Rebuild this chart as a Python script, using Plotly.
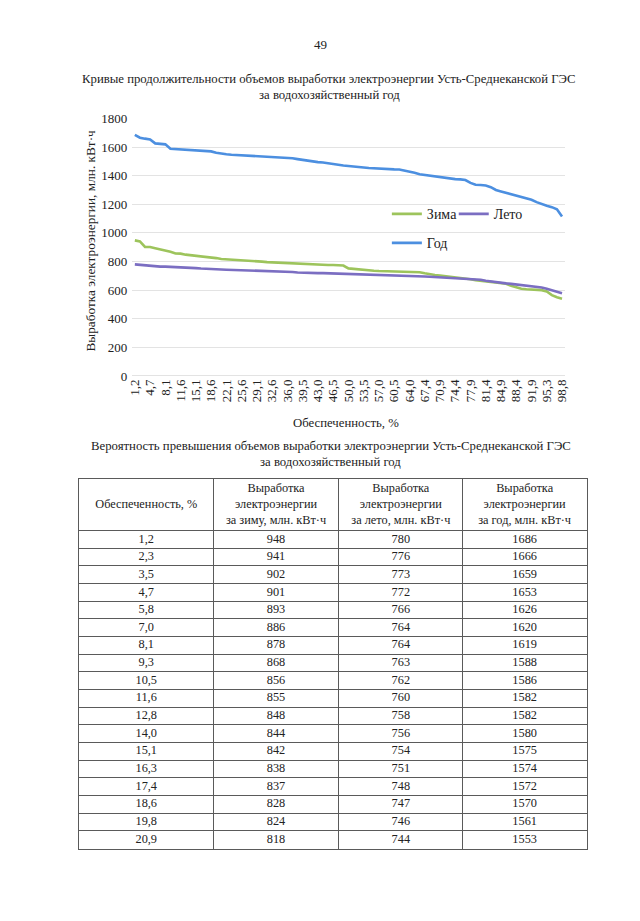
import plotly.graph_objects as go

# Обеспеченность, % (85 points)
obesp = ["1,2","2,3","3,5","4,7","5,8","7,0","8,1","9,3","10,5","11,6","12,8","14,0","15,1","16,3","17,4",
         "18,6","19,8","20,9","22,1","23,3","24,4","25,6","26,7","27,9","29,1","30,2","31,4","32,6","33,7",
         "34,9","36,0","37,2","38,4","39,5","40,7","41,9","43,0","44,2","45,3","46,5","47,7","48,8","50,0",
         "51,2","52,3","53,5","54,7","55,8","57,0","58,1","59,3","60,5","61,6","62,8","64,0","65,1","66,3",
         "67,4","68,6","69,8","70,9","72,1","73,3","74,4","75,6","76,7","77,9","79,1","80,2","81,4","82,6",
         "83,7","84,9","86,0","87,2","88,4","89,5","90,7","91,9","93,0","94,2","95,3","96,5","97,7","98,8"]

zima = [948, 941, 902, 901, 893, 886, 878, 868, 856, 855, 848, 844, 842, 838, 837, 828, 824, 818,
        816, 814, 813, 812, 809, 806, 802, 799, 796, 794, 792, 790, 788, 786, 784, 782, 781, 779,
        778, 777, 776, 776, 775, 772, 752, 748, 744, 740, 738, 736, 734, 733, 731, 730, 729, 728,
        727, 726, 725, 718, 710, 706, 702, 698, 694, 691, 688, 682, 676, 670, 666, 662, 660, 656,
        650, 645, 630, 618, 610, 606, 604, 602, 600, 590, 565, 550, 540]

leto = [780, 776, 773, 772, 766, 764, 764, 763, 762, 760, 758, 756, 754, 751, 748, 747, 746, 744,
        743, 742, 741, 740, 738, 736, 735, 734, 733, 733, 732, 731, 729, 727, 723, 721, 720, 720,
        719, 719, 718, 717, 716, 715, 714, 713, 712, 711, 710, 709, 708, 707, 705, 704, 703, 702,
        700, 699, 697, 695, 693, 691, 689, 688, 686, 684, 682, 680, 679, 677, 672, 666, 660, 655,
        651, 647, 644, 640, 636, 631, 627, 623, 618, 610, 601, 590, 578]

god = [1686, 1666, 1659, 1653, 1626, 1620, 1619, 1588, 1586, 1582, 1582, 1580, 1575, 1574, 1572,
       1570, 1561, 1553, 1550, 1547, 1545, 1541, 1539, 1537, 1535, 1533, 1530, 1528, 1527, 1525,
       1524, 1522, 1516, 1510, 1506, 1502, 1495, 1492, 1486, 1481, 1476, 1471, 1468, 1463, 1460,
       1457, 1454, 1451, 1449, 1447, 1445, 1444, 1443, 1437, 1428, 1420, 1410, 1405, 1401, 1396,
       1389, 1383, 1379, 1376, 1374, 1370, 1350, 1337, 1335, 1331, 1320, 1300, 1290, 1280, 1270,
       1262, 1254, 1245, 1232, 1215, 1200, 1190, 1180, 1165, 1115]

table_rows = 18
header_labels = ["Обеспеченность, %",
                 "Выработка<br>электроэнергии<br>за зиму, млн. кВт·ч",
                 "Выработка<br>электроэнергии<br>за лето, млн. кВт·ч",
                 "Выработка<br>электроэнергии<br>за год, млн. кВт·ч"]

FONT = "Liberation Serif, Times New Roman, serif"
TXT = "#222222"
W, H = 600, 880
# empirical mapping from page pixels to figure pixels
SCALE, OFF_X, OFF_Y = 0.985, 13.5, 14.3


def px_x(x):
    return ((x - OFF_X) / SCALE) / W


def px_y(y):
    return 1 - ((y - OFF_Y) / SCALE) / H


# table geometry (in table pixel units)
col_w = [134, 126, 124, 124]
header_h, row_h = 52, 17.7
col_bounds = [0]
for w in col_w:
    col_bounds.append(col_bounds[-1] + w)
col_centers = [(col_bounds[i] + col_bounds[i + 1]) / 2 for i in range(len(col_w))]
row_bounds = [0, header_h] + [header_h + row_h * (k + 1) for k in range(table_rows)]
row_centers = [header_h + row_h * (k + 0.5) for k in range(table_rows)]
table_w, table_h = col_bounds[-1], row_bounds[-1]
tbl_left, tbl_top = 80, 479

fig = go.Figure()
fig.add_trace(go.Scatter(x=obesp, y=zima, mode="lines", name="Зима",
                         line=dict(color="#9DC45C", width=2.6), legend="legend"))
fig.add_trace(go.Scatter(x=obesp, y=leto, mode="lines", name="Лето",
                         line=dict(color="#7B6EC2", width=2.6), legend="legend3"))
fig.add_trace(go.Scatter(x=obesp, y=god, mode="lines", name="Год",
                         line=dict(color="#4C8FE0", width=2.6), legend="legend2"))

TFS = 12.3
fig.add_trace(go.Scatter(x=col_centers, y=[header_h / 2] * 4, text=header_labels, mode="text",
                         textposition="middle center", showlegend=False, hoverinfo="skip",
                         textfont=dict(family=FONT, size=TFS, color=TXT),
                         xaxis="x2", yaxis="y2"))
columns = [obesp[:table_rows], zima[:table_rows], leto[:table_rows], god[:table_rows]]
for j, col in enumerate(columns):
    fig.add_trace(go.Scatter(x=[col_centers[j]] * table_rows, y=row_centers,
                             text=[str(v) for v in col], mode="text",
                             textposition="middle center", showlegend=False, hoverinfo="skip",
                             textfont=dict(family=FONT, size=TFS, color=TXT),
                             xaxis="x2", yaxis="y2"))

TS = 12.75
annotations = [
    dict(text="49", x=px_x(322), y=px_y(44), font=dict(size=13)),
    dict(text="Кривые продолжительности объемов выработки электроэнергии Усть-Среднеканской ГЭС",
         x=px_x(330), y=px_y(78), font=dict(size=TS)),
    dict(text="за водохозяйственный год", x=px_x(331), y=px_y(94), font=dict(size=TS)),
    dict(text="Выработка электроэнергии, млн. кВт·ч", x=px_x(91), y=px_y(240),
         textangle=-90, font=dict(size=13.3)),
    dict(text="Обеспеченность, %", x=px_x(347), y=px_y(423), font=dict(size=TS)),
    dict(text="Вероятность превышения объемов выработки электроэнергии Усть-Среднеканской ГЭС",
         x=px_x(332), y=px_y(446), font=dict(size=TS)),
    dict(text="за водохозяйственный год", x=px_x(332), y=px_y(462), font=dict(size=TS)),
]
for a in annotations:
    a.update(xref="paper", yref="paper", showarrow=False, xanchor="center", yanchor="middle")
    a["font"].update(family=FONT, color=TXT)

LINE = "#5a5a5a"
LEG_FONT = dict(size=14, family=FONT, color=TXT)
fig.update_layout(
    width=W, height=H,
    margin=dict(l=0, r=0, t=0, b=0),
    paper_bgcolor="white", plot_bgcolor="white",
    font=dict(family=FONT, color=TXT),
    annotations=annotations,
    xaxis=dict(domain=[px_x(133), px_x(566)], type="category", range=[-0.5, 84.5],
               tickmode="array", tickvals=obesp[::3], ticktext=obesp[::3],
               tickangle=-90, tickfont=dict(size=13, family=FONT, color=TXT),
               showgrid=False, showline=False, ticks="", anchor="y"),
    yaxis=dict(domain=[px_y(376), px_y(118)], range=[0, 1800], dtick=200,
               tickfont=dict(size=13, family=FONT, color=TXT),
               showgrid=True, gridcolor="#e3e3e3", gridwidth=1,
               zeroline=True, zerolinecolor="#e3e3e3", zerolinewidth=1,
               showline=False, ticks="", ticklabelstandoff=4, anchor="x"),
    xaxis2=dict(domain=[px_x(tbl_left), px_x(tbl_left + table_w)], range=[0, table_w],
                tickmode="array", tickvals=col_bounds, showticklabels=False,
                showgrid=True, gridcolor=LINE, gridwidth=1, zeroline=False,
                showline=True, mirror=True, linecolor=LINE, linewidth=1,
                ticks="", anchor="y2", fixedrange=True),
    yaxis2=dict(domain=[px_y(tbl_top + table_h), px_y(tbl_top)], range=[table_h, 0],
                tickmode="array", tickvals=row_bounds, showticklabels=False,
                showgrid=True, gridcolor=LINE, gridwidth=1, zeroline=False,
                showline=True, mirror=True, linecolor=LINE, linewidth=1,
                ticks="", anchor="x2", fixedrange=True),
    legend=dict(orientation="h", x=px_x(388), y=px_y(214), xanchor="left", yanchor="middle",
                font=LEG_FONT, bgcolor="rgba(0,0,0,0)", itemwidth=30),
    legend3=dict(orientation="h", x=px_x(455), y=px_y(214), xanchor="left", yanchor="middle",
                 font=LEG_FONT, bgcolor="rgba(0,0,0,0)", itemwidth=30),
    legend2=dict(orientation="h", x=px_x(388), y=px_y(243), xanchor="left", yanchor="middle",
                 font=LEG_FONT, bgcolor="rgba(0,0,0,0)", itemwidth=30),
    showlegend=True,
)

fig.write_html("out.html")
